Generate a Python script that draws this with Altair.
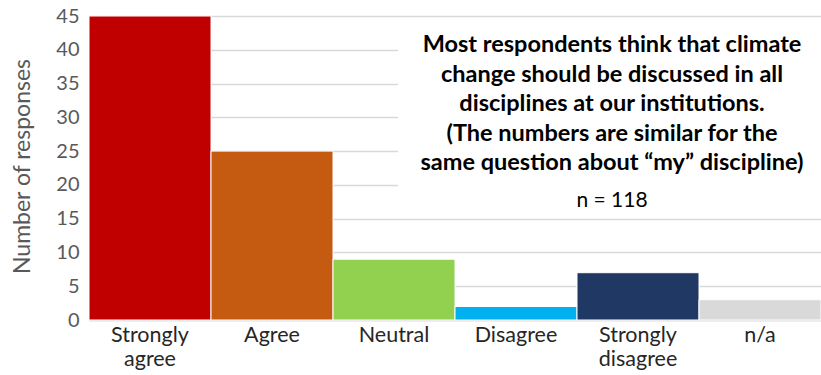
import altair as alt
import pandas as pd

categories = ["Strongly agree", "Agree", "Neutral", "Disagree", "Strongly disagree", "n/a"]
responses = [72, 25, 9, 2, 7, 3]
colors = ["#C00000", "#C55A11", "#92D050", "#00B0F0", "#1F3864", "#D9D9D9"]
y_ticks = [0, 5, 10, 15, 20, 25, 30, 35, 40, 45]
note_lines = [
    "Most respondents think that climate",
    "change should be discussed in all",
    "disciplines at our institutions.",
    "(The numbers are similar for the",
    "same question about \u201cmy\u201d discipline)",
]
n_label = "n = 118"

df = pd.DataFrame({"category": categories, "responses": responses})
FONT = "Lato"

bars = alt.Chart(df).mark_bar(stroke="white", strokeWidth=1).encode(
    x=alt.X(
        "category:N",
        sort=categories,
        scale=alt.Scale(paddingInner=0, paddingOuter=0),
        axis=alt.Axis(
            title=None,
            labelAngle=0,
            labelExpr="split(datum.label, ' ')",
            labelFontSize=21.5,
            labelColor="#262626",
            labelFont=FONT,
            labelLineHeight=24,
            labelPadding=4,
            ticks=False,
            domain=True,
            domainColor="#D9D9D9",
            domainWidth=1.5,
            grid=False,
        ),
    ),
    y=alt.Y(
        "responses:Q",
        scale=alt.Scale(domain=[0, 45], clamp=True, nice=False),
        axis=alt.Axis(
            values=y_ticks,
            title="Number of responses",
            titleFont=FONT,
            titleFontSize=23,
            titleFontWeight="normal",
            titleColor="#595959",
            titleAngle=270,
            titleX=-67,
            titleY=150,
            titleAlign="center",
            titleBaseline="middle",
            labelFont=FONT,
            labelFontSize=20,
            labelColor="#595959",
            labelPadding=10,
            ticks=False,
            domain=False,
            grid=True,
            gridColor="#D9D9D9",
            gridWidth=1.5,
        ),
    ),
    color=alt.Color("category:N", sort=categories,
                    scale=alt.Scale(domain=categories, range=colors), legend=None),
)

box = alt.Chart(alt.Data(values=[{}])).mark_rect(color="white").encode(
    x=alt.value(309), x2=alt.value(732), y=alt.value(4), y2=alt.value(191)
)

note = alt.Chart(alt.Data(values=[{}])).mark_text(
    font=FONT, fontSize=23.5, fontWeight="bold", color="#000000",
    align="center", baseline="alphabetic", lineHeight=29.5,
).encode(x=alt.value(523), y=alt.value(36), text=alt.value(note_lines))

nlab = alt.Chart(alt.Data(values=[{}])).mark_text(
    font=FONT, fontSize=21, color="#000000", align="center", baseline="alphabetic",
).encode(x=alt.value(523), y=alt.value(191), text=alt.value(n_label))

chart = alt.layer(bars, box, note, nlab).properties(
    width=732, height=304,
    autosize=alt.AutoSizeParams(type="none"),
    padding={"left": 89, "top": 16, "right": 0, "bottom": 55},
).configure_view(stroke=None).configure(background="white")

chart.save("out.html", embed_options={"renderer": "svg", "actions": False})
